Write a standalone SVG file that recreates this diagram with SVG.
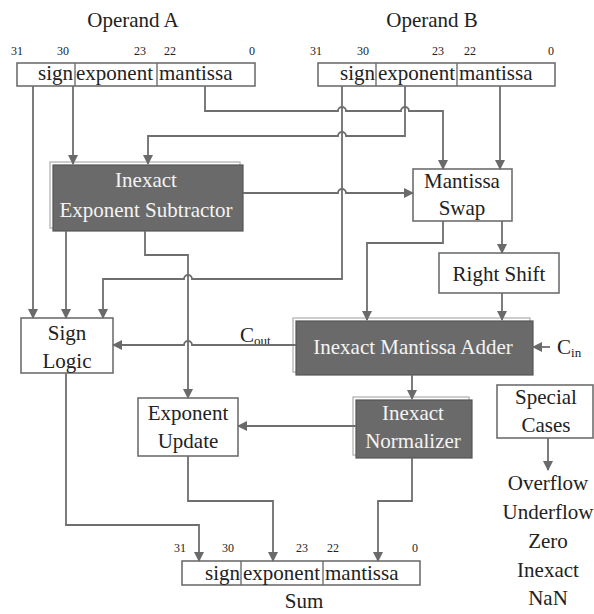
<svg xmlns="http://www.w3.org/2000/svg" width="594" height="614" viewBox="0 0 594 614" font-family="'Liberation Serif', 'Times New Roman', serif">
<defs>
<marker id="ah" markerWidth="10" markerHeight="10" refX="9" refY="5" orient="auto" markerUnits="userSpaceOnUse">
<path d="M0,0 L10,5 L0,10 Z" fill="#6a6a6a"/>
</marker>
<style>
text{font-family:'Liberation Serif','Times New Roman',serif;fill:#222;}
.t{font-size:21px;text-anchor:middle;}
.w{font-size:21px;text-anchor:middle;fill:#f4f4f4;}
.b{font-size:12px;text-anchor:middle;}
.r{font-size:21px;}
.box{fill:#fff;stroke:#6e6e6e;stroke-width:1.6;}
.sh{fill:#fff;stroke:#bdbdbd;stroke-width:1.5;}
.dk{fill:#6a6a6a;stroke:#555;stroke-width:1.2;}
.c{fill:none;stroke:#6e6e6e;stroke-width:1.8;}
.div{stroke:#6e6e6e;stroke-width:1.4;}
</style>
</defs>
<rect width="594" height="614" fill="#fff"/>

<g id="operandA">
<text class="t" x="133" y="27">Operand A</text>
<text class="b" x="17" y="55">31</text><text class="b" x="63" y="55">30</text><text class="b" x="140" y="55">23</text><text class="b" x="170" y="55">22</text><text class="b" x="252" y="55">0</text>
<rect class="box" x="17" y="63" width="238" height="23"/>
<line class="div" x1="75" y1="63" x2="75" y2="86"/><line class="div" x1="157" y1="63" x2="157" y2="86"/>
<text class="r" x="73" y="80" text-anchor="end">sign</text>
<text class="r" x="76" y="80">exponent</text>
<text class="r" x="159" y="80">mantissa</text>
</g>

<g id="operandB">
<text class="t" x="432" y="27">Operand B</text>
<text class="b" x="316" y="55">31</text><text class="b" x="363" y="55">30</text><text class="b" x="438" y="55">23</text><text class="b" x="470" y="55">22</text><text class="b" x="551" y="55">0</text>
<rect class="box" x="318" y="63" width="237" height="23"/>
<line class="div" x1="376" y1="63" x2="376" y2="86"/><line class="div" x1="457" y1="63" x2="457" y2="86"/>
<text class="r" x="375" y="80" text-anchor="end">sign</text>
<text class="r" x="378" y="80">exponent</text>
<text class="r" x="459" y="80">mantissa</text>
</g>

<g id="expSub">
<rect class="sh" x="50" y="162" width="190" height="66"/>
<rect class="dk" x="53" y="165" width="190" height="66"/>
<text class="w" x="146" y="187">Inexact</text>
<text class="w" x="146" y="217">Exponent Subtractor</text>
</g>

<g id="mantSwap">
<rect class="box" x="413" y="169" width="99" height="52"/>
<text class="t" x="462" y="188">Mantissa</text>
<text class="t" x="462" y="215">Swap</text>
</g>

<g id="rightShift">
<rect class="box" x="439" y="253" width="120" height="40"/>
<text class="t" x="499" y="281">Right Shift</text>
</g>

<g id="signLogic">
<rect class="box" x="21" y="318" width="92" height="55"/>
<text class="t" x="67" y="340">Sign</text>
<text class="t" x="67" y="368">Logic</text>
</g>

<g id="mantAdder">
<rect class="sh" x="293" y="318" width="237" height="54"/>
<rect class="dk" x="296" y="321" width="237" height="54"/>
<text class="w" x="413" y="354">Inexact Mantissa Adder</text>
</g>

<g id="expUpdate">
<rect class="box" x="138" y="398" width="100" height="58"/>
<text class="t" x="188" y="420">Exponent</text>
<text class="t" x="188" y="448">Update</text>
</g>

<g id="normalizer">
<rect class="sh" x="353" y="397" width="116" height="58"/>
<rect class="dk" x="356" y="400" width="116" height="58"/>
<text class="w" x="413" y="420">Inexact</text>
<text class="w" x="413" y="448">Normalizer</text>
</g>

<g id="special">
<rect class="box" x="497" y="385" width="96" height="53"/>
<text class="t" x="546" y="404">Special</text>
<text class="t" x="546" y="432">Cases</text>
<text class="t" x="548" y="490">Overflow</text>
<text class="t" x="548" y="519">Underflow</text>
<text class="t" x="548" y="548">Zero</text>
<text class="t" x="548" y="577">Inexact</text>
<text class="t" x="548" y="605">NaN</text>
</g>

<g id="sum">
<text class="b" x="180" y="552">31</text><text class="b" x="228" y="552">30</text><text class="b" x="302" y="552">23</text><text class="b" x="333" y="552">22</text><text class="b" x="415" y="552">0</text>
<rect class="box" x="182" y="561" width="238" height="24"/>
<line class="div" x1="241" y1="561" x2="241" y2="585"/><line class="div" x1="323" y1="561" x2="323" y2="585"/>
<text class="r" x="240" y="580" text-anchor="end">sign</text>
<text class="r" x="243" y="580">exponent</text>
<text class="r" x="325" y="580">mantissa</text>
<text class="t" x="304" y="608">Sum</text>
</g>

<g id="labels">
<text class="r" x="240" y="342">C<tspan font-size="13" dy="3">out</tspan></text>
<text class="r" x="557" y="354">C<tspan font-size="13" dy="3">in</tspan></text>
</g>

<g id="connectors">
<path class="c" marker-end="url(#ah)" d="M33,86 V318"/>
<path class="c" marker-end="url(#ah)" d="M73,86 V164"/>
<path class="c" marker-end="url(#ah)" d="M205,86 V111 H338 A4,4 0 0 1 346,111 H401 A4,4 0 0 1 409,111 H443 V169"/>
<path class="c" marker-end="url(#ah)" d="M405,86 V136 H346 A4,4 0 0 0 338,136 H148 V164"/>
<path class="c" marker-end="url(#ah)" d="M342,86 V279 H192 A4,4 0 0 0 184,279 H103 V318"/>
<path class="c" marker-end="url(#ah)" d="M500,86 V169"/>
<path class="c" marker-end="url(#ah)" d="M243,193 H338 A4,4 0 0 1 346,193 H413"/>
<path class="c" marker-end="url(#ah)" d="M66,231 V318"/>
<path class="c" marker-end="url(#ah)" d="M145,231 V255 H188 V398"/>
<path class="c" marker-end="url(#ah)" d="M443,221 V243 H367 V320"/>
<path class="c" marker-end="url(#ah)" d="M502,221 V253"/>
<path class="c" marker-end="url(#ah)" d="M502,293 V320"/>
<path class="c" marker-end="url(#ah)" d="M296,345 H192 A4,4 0 0 0 184,345 H113"/>
<path class="c" marker-end="url(#ah)" d="M550,347 H533"/>
<path class="c" marker-end="url(#ah)" d="M412,375 V399"/>
<path class="c" marker-end="url(#ah)" d="M356,426 H238"/>
<path class="c" marker-end="url(#ah)" d="M66,373 V525 H199 V561"/>
<path class="c" marker-end="url(#ah)" d="M188,456 V501 H273 V561"/>
<path class="c" marker-end="url(#ah)" d="M412,458 V501 H378 V561"/>
<path class="c" marker-end="url(#ah)" d="M548,438 V470"/>
</g>
</svg>
